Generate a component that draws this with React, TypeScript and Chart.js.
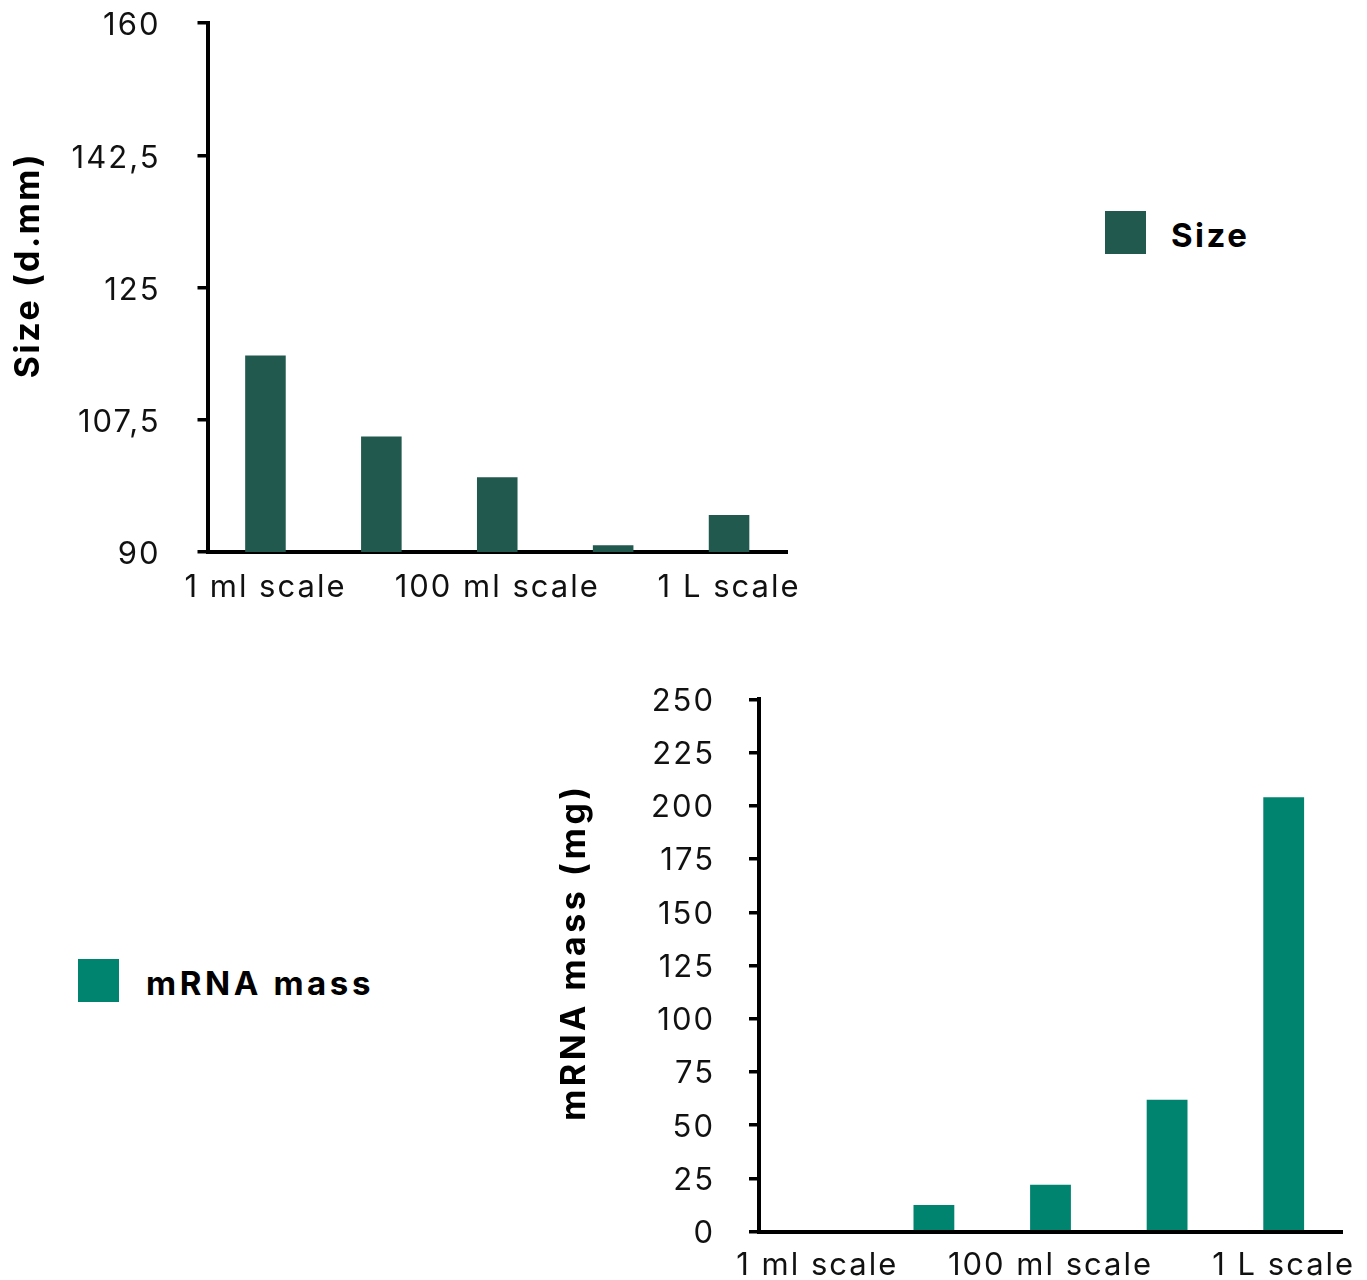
import React, { useEffect, useRef } from "react";
import { Chart, registerables } from "chart.js";

Chart.register(...registerables);

// ---------- data ----------
const categories = ["1 ml scale", "", "100 ml scale", "", "1 L scale"];

const sizeValues = [116, 105.3, 99.9, 90.9, 94.9];
const sizeTickValues = [90, 107.5, 125, 142.5, 160];
const sizeTickLabels = ["90", "107,5", "125", "142,5", "160"];

const massValues = [0, 12.5, 22, 62, 204];
const massTickValues = [0, 25, 50, 75, 100, 125, 150, 175, 200, 225, 250];
const massTickLabels = ["0", "25", "50", "75", "100", "125", "150", "175", "200", "225", "250"];

const SIZE_COLOR = "#22594e";
const MASS_COLOR = "#00836f";
const FONT = "Inter";

const letterSpacingPlugin = {
  id: "letterSpacingPlugin",
  beforeDraw(chart: any) {
    (chart.ctx as any).letterSpacing = "2px";
  },
};

// rotated y-axis title, drawn as canvas text
const sideTitlePlugin = {
  id: "sideTitle",
  afterDraw(chart: any, _args: any, opts: any) {
    if (!opts || !opts.text) return;
    const ctx = chart.ctx as any;
    ctx.save();
    ctx.font = `bold 34px ${FONT}`;
    ctx.letterSpacing = `${opts.spacing}px`;
    ctx.fillStyle = "#000";
    ctx.textAlign = "center";
    ctx.textBaseline = "middle";
    ctx.translate(opts.x, opts.y);
    ctx.rotate(-Math.PI / 2);
    ctx.fillText(opts.text, 0, 0);
    ctx.restore();
  },
};

interface PanelCfg {
  values: number[];
  color: string;
  label: string;
  tickValues: number[];
  tickLabels: string[];
  title: string;
  titleX: number;
  titleY: number;
  titleSpacing: number;
  yWidth: number;
  xHeight: number;
  padTop: number;
  padRight: number;
  yLabelPad: number;
  yLabelOffset: number;
  xLabelPad: number;
}

function makeConfig(c: PanelCfg): any {
  return {
    type: "bar",
    data: {
      labels: categories,
      datasets: [
        {
          label: c.label,
          data: c.values,
          backgroundColor: c.color,
          borderWidth: 0,
          categoryPercentage: 1,
          barPercentage: 0.35,
        },
      ],
    },
    plugins: [letterSpacingPlugin, sideTitlePlugin],
    options: {
      responsive: false,
      maintainAspectRatio: false,
      animation: false,
      layout: { padding: { top: c.padTop, right: c.padRight, left: 0, bottom: 0 } },
      plugins: {
        legend: { display: false },
        tooltip: { enabled: false },
        sideTitle: { text: c.title, x: c.titleX, y: c.titleY, spacing: c.titleSpacing },
      },
      scales: {
        x: {
          type: "category",
          grid: { display: false, drawTicks: false },
          border: { display: true, color: "#000", width: 4 },
          ticks: {
            autoSkip: false,
            maxRotation: 0,
            minRotation: 0,
            padding: c.xLabelPad,
            color: "#111",
            font: { family: FONT, size: 31 },
          },
          afterFit: (s: any) => {
            s.height = c.xHeight;
            s.paddingLeft = 0;
            s.paddingRight = 0;
          },
        },
        y: {
          type: "linear",
          min: c.tickValues[0],
          max: c.tickValues[c.tickValues.length - 1],
          afterBuildTicks: (s: any) => {
            s.ticks = c.tickValues.map((v) => ({ value: v }));
          },
          ticks: {
            padding: c.yLabelPad,
            labelOffset: c.yLabelOffset,
            color: "#111",
            font: { family: FONT, size: 31 },
            callback: (v: any) => {
              const i = c.tickValues.indexOf(Number(v));
              return i >= 0 ? c.tickLabels[i] : "";
            },
          },
          grid: {
            display: true,
            drawOnChartArea: false,
            drawTicks: true,
            tickLength: 10,
            tickWidth: 3.5,
            tickColor: "#000",
            lineWidth: 3.5,
            color: "#000",
          },
          border: { display: true, color: "#000", width: 4 },
          title: { display: false, text: c.title },
          afterFit: (s: any) => {
            s.width = c.yWidth;
            s.paddingTop = 0;
            s.paddingBottom = 0;
          },
        },
      },
    },
  };
}

function ChartPanel({
  cfg,
  left,
  top,
  width,
  height,
}: {
  cfg: PanelCfg;
  left: number;
  top: number;
  width: number;
  height: number;
}) {
  const ref = useRef<HTMLCanvasElement | null>(null);
  useEffect(() => {
    if (!ref.current) return;
    const chart = new Chart(ref.current, makeConfig(cfg));
    return () => chart.destroy();
  }, []);
  return (
    <canvas
      ref={ref}
      width={width}
      height={height}
      style={{ position: "absolute", left, top, width, height }}
    />
  );
}

function LegendItem({
  left,
  top,
  color,
  text,
  spacing,
  letterSpacing,
}: {
  left: number;
  top: number;
  color: string;
  text: string;
  spacing: number;
  letterSpacing: number;
}) {
  return (
    <div
      style={{
        position: "absolute",
        left,
        top,
        display: "flex",
        alignItems: "center",
        height: 43,
      }}
    >
      <div style={{ width: 41, height: 43, background: color }} />
      <div
        style={{
          marginLeft: spacing,
          fontFamily: FONT,
          fontWeight: 700,
          fontSize: 33,
          letterSpacing: `${letterSpacing}px`,
          color: "#000",
          lineHeight: "43px",
          whiteSpace: "nowrap",
          paddingTop: 6,
        }}
      >
        {text}
      </div>
    </div>
  );
}

const sizeCfg: PanelCfg = {
  values: sizeValues,
  color: SIZE_COLOR,
  label: "Size",
  tickValues: sizeTickValues,
  tickLabels: sizeTickLabels,
  title: "Size (d.mm)",
  titleX: 29,
  titleY: 265,
  titleSpacing: 2.5,
  yWidth: 207.5,
  xHeight: 68,
  padTop: 23,
  padRight: 33,
  yLabelPad: 37,
  yLabelOffset: 3,
  xLabelPad: 17,
};

const massCfg: PanelCfg = {
  values: massValues,
  color: MASS_COLOR,
  label: "mRNA mass",
  tickValues: massTickValues,
  tickLabels: massTickLabels,
  title: "mRNA mass (mg)",
  titleX: 35,
  titleY: 292,
  titleSpacing: 3.5,
  yWidth: 219,
  xHeight: 48.3,
  padTop: 39.3,
  padRight: 25,
  yLabelPad: 34,
  yLabelOffset: 2,
  xLabelPad: 15,
};

export default function App() {
  return (
    <div
      style={{
        position: "absolute",
        left: 0,
        top: 0,
        width: 1367,
        height: 1280,
        background: "#fff",
        overflow: "hidden",
      }}
    >
      <ChartPanel cfg={sizeCfg} left={0} top={0} width={820} height={620} />
      <ChartPanel cfg={massCfg} left={540} top={660} width={827} height={620} />
      <LegendItem left={1105} top={211} color={SIZE_COLOR} text="Size" spacing={25} letterSpacing={2.5} />
      <LegendItem left={78} top={959} color={MASS_COLOR} text="mRNA mass" spacing={27} letterSpacing={3.6} />
    </div>
  );
}
